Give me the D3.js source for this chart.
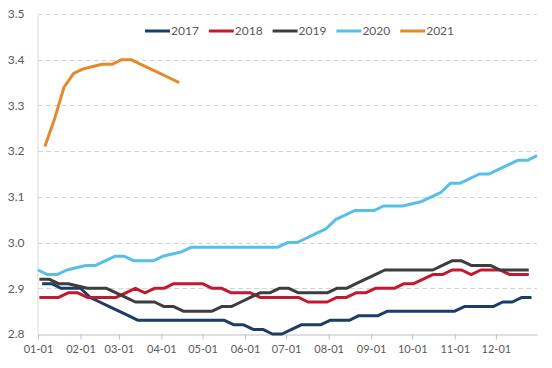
<!DOCTYPE html>
<html>
<head>
<meta charset="utf-8">
<script src="https://cdn.jsdelivr.net/npm/d3@7"></script>
<style>
  body { margin: 0; background: #fff; }
  svg text { font-family: Lato, "Open Sans", sans-serif; fill: #595959; }
</style>
</head>
<body>
<script>
var width = 552,
    height = 368;

// weekly readings, first point on day-of-year startDays[i] (0 = 01-01)
var years = ["2017", "2018", "2019", "2020", "2021"];
var startDays = [3, 1, 1, 0, 5];
var colors = ["#1b3d66", "#c2192e", "#3d3d3d", "#58c0e8", "#e48a2c"];

var v2017 = [2.91, 2.91, 2.90, 2.90, 2.90, 2.88, 2.87, 2.86, 2.85, 2.84, 2.83, 2.83, 2.83,
  2.83, 2.83, 2.83, 2.83, 2.83, 2.83, 2.83, 2.82, 2.82, 2.81, 2.81, 2.80, 2.80, 2.81,
  2.82, 2.82, 2.82, 2.83, 2.83, 2.83, 2.84, 2.84, 2.84, 2.85, 2.85, 2.85, 2.85, 2.85,
  2.85, 2.85, 2.85, 2.86, 2.86, 2.86, 2.86, 2.87, 2.87, 2.88, 2.88];
var v2018 = [2.88, 2.88, 2.88, 2.89, 2.89, 2.88, 2.88, 2.88, 2.88, 2.89, 2.90, 2.89, 2.90,
  2.90, 2.91, 2.91, 2.91, 2.91, 2.90, 2.90, 2.89, 2.89, 2.89, 2.88, 2.88, 2.88, 2.88,
  2.88, 2.87, 2.87, 2.87, 2.88, 2.88, 2.89, 2.89, 2.90, 2.90, 2.90, 2.91, 2.91, 2.92,
  2.93, 2.93, 2.94, 2.94, 2.93, 2.94, 2.94, 2.94, 2.93, 2.93, 2.93];
var v2019 = [2.92, 2.92, 2.91, 2.91, 2.905, 2.90, 2.90, 2.90, 2.89, 2.88, 2.87, 2.87, 2.87,
  2.86, 2.86, 2.85, 2.85, 2.85, 2.85, 2.86, 2.86, 2.87, 2.88, 2.89, 2.89, 2.90, 2.90,
  2.89, 2.89, 2.89, 2.89, 2.90, 2.90, 2.91, 2.92, 2.93, 2.94, 2.94, 2.94, 2.94, 2.94,
  2.94, 2.95, 2.96, 2.96, 2.95, 2.95, 2.95, 2.94, 2.94, 2.94, 2.94];
var v2020 = [2.94, 2.93, 2.93, 2.94, 2.945, 2.95, 2.95, 2.96, 2.97, 2.97, 2.96, 2.96, 2.96,
  2.97, 2.975, 2.98, 2.99, 2.99, 2.99, 2.99, 2.99, 2.99, 2.99, 2.99, 2.99, 2.99, 3.00,
  3.00, 3.01, 3.02, 3.03, 3.05, 3.06, 3.07, 3.07, 3.07, 3.08, 3.08, 3.08, 3.085, 3.09,
  3.10, 3.11, 3.13, 3.13, 3.14, 3.15, 3.15, 3.16, 3.17, 3.18, 3.18, 3.19];
var v2021 = [3.21, 3.27, 3.34, 3.37, 3.38, 3.385, 3.39, 3.39, 3.40, 3.40, 3.39, 3.38, 3.37,
  3.36, 3.35];

var seriesValues = [v2017, v2018, v2019, v2020, v2021];

var yTicks = [2.8, 2.9, 3.0, 3.1, 3.2, 3.3, 3.4, 3.5];
var monthStarts = [0, 31, 59, 90, 120, 151, 181, 212, 243, 273, 304, 334];
var monthLabels = ["01-01", "02-01", "03-01", "04-01", "05-01", "06-01",
  "07-01", "08-01", "09-01", "10-01", "11-01", "12-01"];

var margin = {top: 14, right: 15, bottom: 34, left: 38};

var xScale = d3.scaleLinear()
	.domain([0, 364])
	.range([margin.left, width - margin.right]);

var yScale = d3.scaleLinear()
	.domain([2.8, 3.5])
	.range([height - margin.bottom, margin.top]);

var svg = d3.select("body")
	.append("svg")
	.attr("width", width)
	.attr("height", height);

//gridlines
svg.append("g")
	.selectAll("line")
	.data(yTicks.slice(1))
	.enter()
	.append("line")
	.attr("x1", margin.left)
	.attr("x2", width - margin.right)
	.attr("y1", function(d) { return Math.round(yScale(d)) + 0.5; })
	.attr("y2", function(d) { return Math.round(yScale(d)) + 0.5; })
	.attr("stroke", "#d6d6d6")
	.attr("stroke-dasharray", "5,3");

//y axis
var yAxis = svg.append("g")
	.attr("transform", "translate(" + (margin.left - 0.5) + ",0)")
	.call(d3.axisLeft(yScale).tickValues(yTicks).tickFormat(d3.format(".1f")).tickSize(0).tickPadding(13));
yAxis.select(".domain").attr("stroke", "#d9d9d9");
yAxis.selectAll("text").style("font-size", "12px").style("fill", "#595959");

//x axis
var xAxis = svg.append("g")
	.attr("transform", "translate(0," + (Math.round(yScale(2.8)) + 0.5) + ")")
	.call(d3.axisBottom(xScale).tickValues(monthStarts)
		.tickFormat(function(d, i) { return monthLabels[i]; })
		.tickSize(5).tickSizeOuter(0).tickPadding(6));
xAxis.select(".domain").attr("stroke", "#bfbfbf");
xAxis.selectAll(".tick line").attr("stroke", "#bfbfbf");
xAxis.selectAll("text").style("font-size", "11px").style("fill", "#595959");

//lines
var line = d3.line()
	.x(function(d) { return xScale(d.day); })
	.y(function(d) { return yScale(d.value); });

years.forEach(function(year, i) {
	var pts = seriesValues[i].map(function(v, k) {
		return {day: startDays[i] + k * 7, value: v};
	});
	svg.append("path")
		.datum(pts)
		.attr("fill", "none")
		.attr("stroke", colors[i])
		.attr("stroke-width", 3)
		.attr("stroke-linejoin", "round")
		.attr("d", line);
});

//legend
var legend = svg.append("g")
	.selectAll("g")
	.data(years)
	.enter()
	.append("g")
	.attr("transform", function(d, i) { return "translate(" + (145 + i * 63.8) + ",31)"; });

legend.append("line")
	.attr("x1", 0)
	.attr("x2", 25)
	.attr("stroke", function(d, i) { return colors[i]; })
	.attr("stroke-width", 3);

legend.append("text")
	.attr("x", 26)
	.attr("dy", "0.35em")
	.style("font-size", "12px")
	.text(function(d) { return d; });
</script>
</body>
</html>
